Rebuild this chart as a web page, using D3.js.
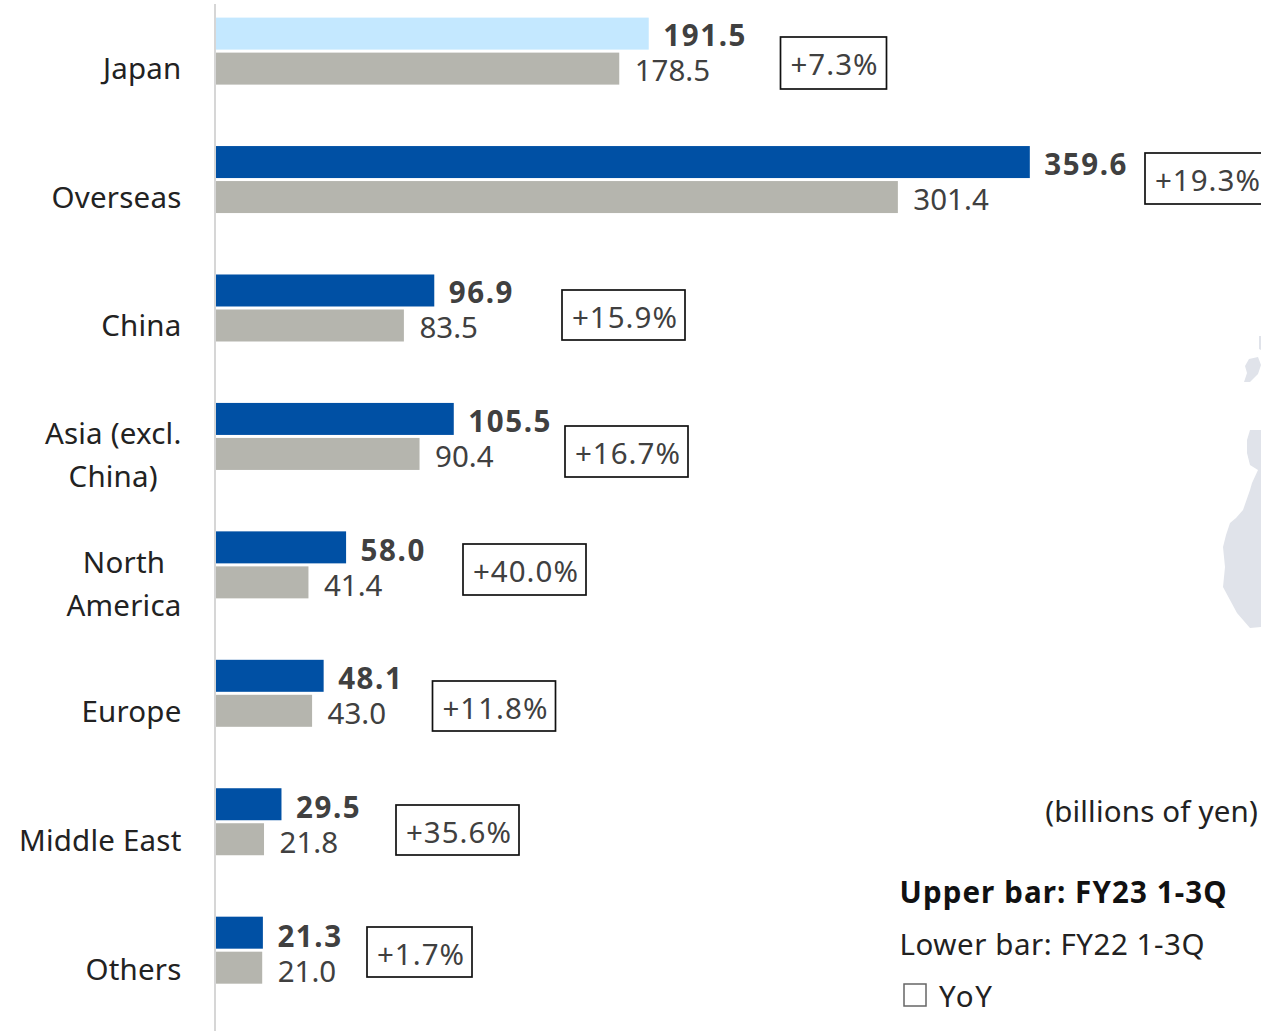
<!DOCTYPE html>
<html><head><meta charset="utf-8">
<script src="https://cdn.jsdelivr.net/npm/d3@7/dist/d3.min.js"></script>
<style>html,body{margin:0;padding:0;background:#fff;overflow:hidden}svg{display:block}text{font-family:"Noto Sans",sans-serif}</style>
</head><body><svg id="c" width="1261" height="1031"></svg>
<script>
const categories=[["Japan"],["Overseas"],["China"],["Asia (excl.","China)"],["North","America"],["Europe"],["Middle East"],["Others"]];
const fy23=[191.5,359.6,96.9,105.5,58.0,48.1,29.5,21.3];
const fy22=[178.5,301.4,83.5,90.4,41.4,43.0,21.8,21.0];
const yoy=["+7.3%","+19.3%","+15.9%","+16.7%","+40.0%","+11.8%","+35.6%","+1.7%"];
const W=1261,H=1031,AXIS=216,ZERO=214.6,PX=2.267;
const svg=d3.select("#c");
const x=d3.scaleLinear().domain([0,(W-ZERO)/PX]).range([ZERO,W]);
const idx=d3.range(categories.length);
const y=d3.scaleBand().domain(idx).range([-13.6,1013.9]);
const yText=d3.scaleBand().domain(idx).range([-13.4,1016.2]);
const boxes=[[780.5,37,106,52],[1145,153,122,51],[562,290,123,50],[565,426,123,51],[463,544,123,51],[432.5,681,123,50],[396,805,123,50],[367,927,105,50]];

// faint map behind
const line=d3.line().curve(d3.curveLinearClosed);
const map=svg.append("g").attr("fill","#e0e3ea");
[[[1261,430],[1250,430],[1247,440],[1247,453],[1250,465],[1258,470],[1252,483],[1250,490],[1243,510],[1236,518],[1230,523],[1226,535],[1223,547],[1225,567],[1223,587],[1230,600],[1237,613],[1250,628],[1261,627]],
 [[1258,357],[1249,359],[1245,366],[1247,373],[1244,382],[1250,382],[1258,374],[1261,365]],
 [[1259,336],[1261,336],[1261,350],[1259,349]]].forEach(p=>map.append("path").attr("d",line(p)));

svg.append("line").attr("x1",215).attr("x2",215).attr("y1",4).attr("y2",H).attr("stroke","#d6d6d6").attr("stroke-width",2);

const rows=svg.selectAll("g.row").data(categories).join("g").attr("class","row")
  .attr("transform",(d,i)=>`translate(0,${y(i)+y.bandwidth()/2})`);
const h=32,g=3;
rows.append("rect").attr("x",AXIS).attr("y",-h-g/2+.5).attr("height",h).attr("width",(d,i)=>x(fy23[i])-AXIS)
  .attr("fill",(d,i)=>i===0?"#c4e8ff":"#0050a4");
rows.append("rect").attr("x",AXIS).attr("y",g/2+.5).attr("height",h).attr("width",(d,i)=>x(fy22[i])-AXIS).attr("fill","#b5b5ae");

const texts=svg.selectAll("g.txt").data(categories).join("g").attr("class","txt")
  .attr("transform",(d,i)=>`translate(0,${yText(i)+yText.bandwidth()/2})`);
texts.append("text").attr("x",(d,i)=>x(fy23[i])+14.5).attr("y",-5).attr("font-size",29.5).attr("font-weight",700).attr("letter-spacing",1.6).attr("fill","#404040").text((d,i)=>fy23[i].toFixed(1));
texts.append("text").attr("x",(d,i)=>x(fy22[i])+15.5).attr("y",30).attr("font-size",29.5).attr("fill","#404040").text((d,i)=>fy22[i].toFixed(1));
texts.each(function(d){
  const t=d3.select(this);
  const ys=d.length>1?[7,50]:[28];
  const els=d.map((s,k)=>t.append("text").attr("y",ys[k]).attr("font-size",29.5).attr("letter-spacing",.2).attr("fill","#222").text(s));
  const wmax=d3.max(els,e=>e.node().getComputedTextLength());
  els.forEach(e=>e.attr("text-anchor","middle").attr("x",181.5-wmax/2));
});
const bx=svg.selectAll("g.box").data(boxes).join("g").attr("class","box");
bx.append("rect").attr("x",b=>b[0]).attr("y",b=>b[1]).attr("width",b=>b[2]).attr("height",b=>b[3]).attr("fill","none").attr("stroke","#111").attr("stroke-width",1.7);
bx.append("text").attr("x",b=>b[0]+10).attr("y",b=>b[1]+38).attr("font-size",29.5).attr("letter-spacing",1).attr("fill","#404040").text((b,i)=>yoy[i]);

svg.append("text").attr("x",1258).attr("y",822).attr("text-anchor","end").attr("font-size",29.5).attr("letter-spacing",.18).attr("fill","#222").text("(billions of yen)");
svg.append("text").attr("x",899.5).attr("y",903).attr("font-size",29.5).attr("font-weight",700).attr("letter-spacing",1.1).attr("fill","#111").text("Upper bar: FY23 1-3Q");
svg.append("text").attr("x",899.5).attr("y",955).attr("font-size",29.5).attr("letter-spacing",.55).attr("fill","#222").text("Lower bar: FY22 1-3Q");
svg.append("rect").attr("x",904).attr("y",984).attr("width",22).attr("height",22).attr("fill","#fff").attr("stroke","#666").attr("stroke-width",1.5);
svg.append("text").attr("x",939).attr("y",1007).attr("font-size",29.5).attr("letter-spacing",1.6).attr("fill","#222").text("YoY");
</script></body></html>
